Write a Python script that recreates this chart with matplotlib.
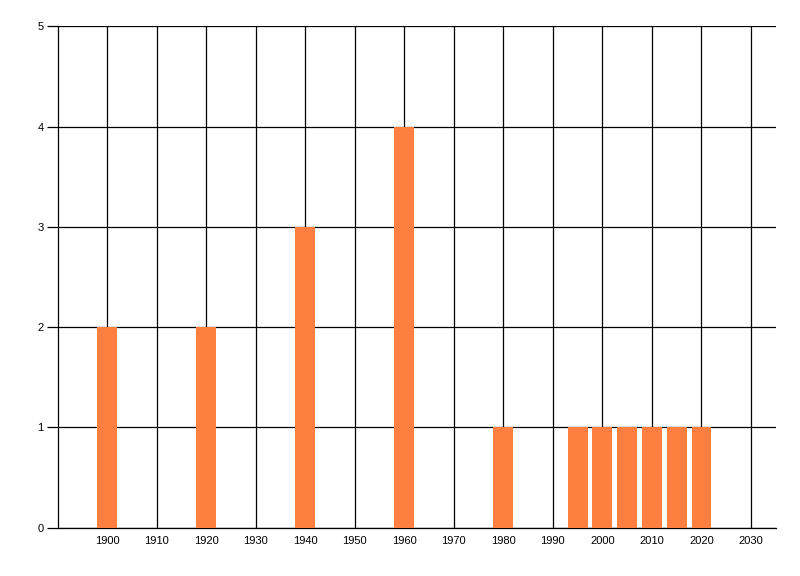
import numpy as np
import matplotlib
matplotlib.use("Agg")
import matplotlib.pyplot as plt

# data
years = [1900, 1920, 1940, 1960, 1980, 1995, 2000, 2005, 2010, 2015, 2020]
counts = [2, 2, 3, 4, 1, 1, 1, 1, 1, 1, 1]
x_ticks = list(range(1900, 2031, 10))
y_ticks = [0, 1, 2, 3, 4, 5]

bar_color = '#FF7F40'
lw = 0.9

plt.rcParams['font.family'] = ['Liberation Sans', 'DejaVu Sans']

fig = plt.figure(figsize=(8, 5.76), dpi=100, facecolor='white')
ax = fig.add_axes([0.0721, 0.0842, 0.8975, 0.8698])

ax.bar(years, counts, width=4, color=bar_color, zorder=3)

ax.set_xlim(1890, 2035)
ax.set_ylim(0, 5)
ax.set_xticks(x_ticks)
ax.set_yticks(y_ticks)
ax.set_xticklabels([str(t) for t in x_ticks])
ax.set_yticklabels([str(t) for t in y_ticks])

ax.grid(True, color='black', linewidth=lw, zorder=0)
ax.set_axisbelow(True)

for side in ['top', 'right']:
    ax.spines[side].set_visible(False)
for side in ['left', 'bottom']:
    ax.spines[side].set_linewidth(lw)
    ax.spines[side].set_color('black')

ax.tick_params(axis='y', length=8, width=lw, pad=2, labelsize=8, colors='black')
ax.tick_params(axis='x', length=0, pad=6, labelsize=8, colors='black')

fig.savefig('out.png', dpi=100)
